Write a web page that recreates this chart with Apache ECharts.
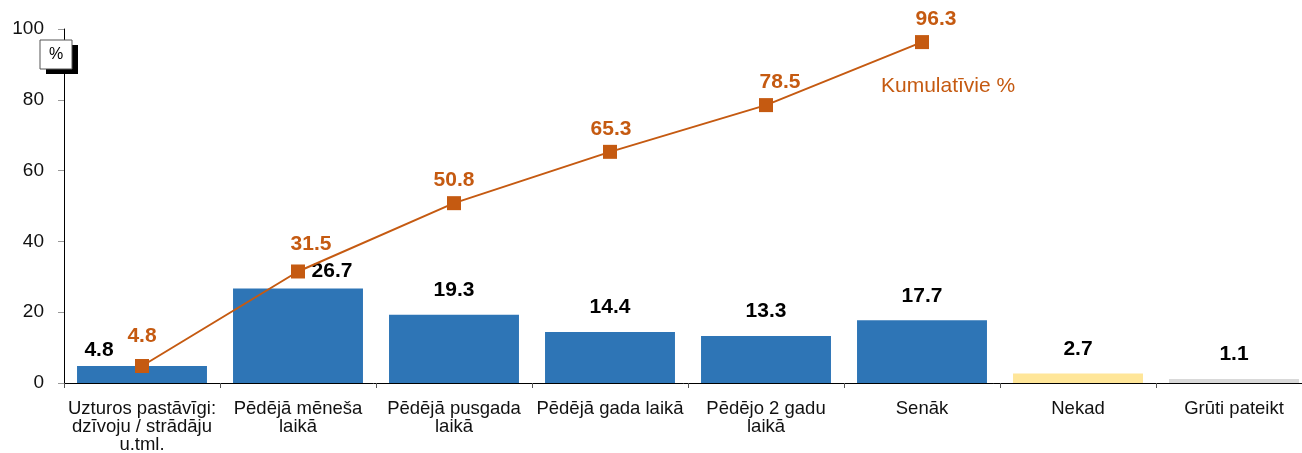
<!DOCTYPE html>
<html><head><meta charset="utf-8">
<script src="https://cdn.jsdelivr.net/npm/echarts@6/dist/echarts.min.js"></script>
<style>html,body{margin:0;padding:0;background:#fff}#c{width:1302px;height:453px}</style>
</head><body><div id="c"></div>
<script>
const categories = ["Uzturos pastāvīgi:\ndzīvoju / strādāju\nu.tml.", "Pēdējā mēneša\nlaikā", "Pēdējā pusgada\nlaikā", "Pēdējā gada laikā", "Pēdējo 2 gadu\nlaikā", "Senāk", "Nekad", "Grūti pateikt"];
const barValues = [4.8, 26.7, 19.3, 14.4, 13.3, 17.7, 2.7, 1.1];
const cumulative = [4.8, 31.5, 50.8, 65.3, 78.5, 96.3];
const yTicks = [0, 20, 40, 60, 80, 100];
const lineName = "Kumulatīvie %";

const barColors = ["#2E75B6","#2E75B6","#2E75B6","#2E75B6","#2E75B6","#2E75B6","#FFE699","#D9D9D9"];
const orange = "#C55A11";
const font = "Liberation Sans, Arial, sans-serif";

const barOffsets = {0: [-43, 9], 1: [34, 7]};
const barData = barValues.map((v, i) => {
  const d = { value: v, itemStyle: { color: barColors[i] } };
  if (barOffsets[i]) d.label = { offset: barOffsets[i] };
  return d;
});
const lineOffsets = [[0,-7],[13,-5],[0,0],[1,0],[14,0],[14,0]];
const lineData = cumulative.map((v, i) => ({ value: v, label: { offset: lineOffsets[i] } }));

const chart = echarts.init(document.getElementById('c'));
chart.setOption({
  animation: false,
  textStyle: { fontFamily: font },
  grid: { left: 64, width: 1248, top: 29, bottom: 70, containLabel: false, outerBoundsMode: 'none' },
  xAxis: {
    type: 'category', data: categories,
    axisLine: { lineStyle: { color: '#000', width: 1 } },
    axisTick: { show: true, alignWithLabel: false, length: 5, lineStyle: { color: '#555' } },
    axisLabel: { color: '#111', fontSize: 18.5, lineHeight: 18, margin: 17, interval: 0, fontFamily: font }
  },
  yAxis: {
    type: 'value', min: 0, max: 100, interval: 20,
    splitLine: { show: false },
    axisLine: { show: true, lineStyle: { color: '#000', width: 1 } },
    axisTick: { show: true, length: 6, lineStyle: { color: '#999' } },
    axisLabel: { color: '#111', fontSize: 19, margin: 20, fontFamily: font,
      formatter: v => yTicks.includes(v) ? String(v) : '' }
  },
  series: [
    {
      type: 'bar', data: barData, barCategoryGap: '16.7%',
      label: { show: true, position: 'top', distance: 14, color: '#000', fontWeight: 'bold', fontSize: 21, fontFamily: font }
    },
    {
      type: 'line', name: lineName, data: lineData,
      symbol: 'rect', symbolSize: 14,
      lineStyle: { color: orange, width: 2 },
      itemStyle: { color: orange },
      label: { show: true, position: 'top', distance: 5, color: orange, fontWeight: 'bold', fontSize: 21, fontFamily: font },
      z: 5
    }
  ],
  graphic: [
    { type: 'rect', shape: { x: 46, y: 45, width: 32, height: 29 }, style: { fill: '#000' }, z: 10 },
    { type: 'rect', shape: { x: 40, y: 40, width: 32, height: 29 }, style: { fill: '#fff', stroke: '#555', lineWidth: 1 }, z: 11 },
    { type: 'text', x: 56, y: 55, style: { text: '%', fontSize: 16, fill: '#000', align: 'center', verticalAlign: 'middle', fontFamily: font }, z: 12 },
    { type: 'text', x: 881, y: 86, style: { text: lineName, fontSize: 21, fill: orange, verticalAlign: 'middle', fontFamily: font }, z: 12 }
  ]
});
</script></body></html>
